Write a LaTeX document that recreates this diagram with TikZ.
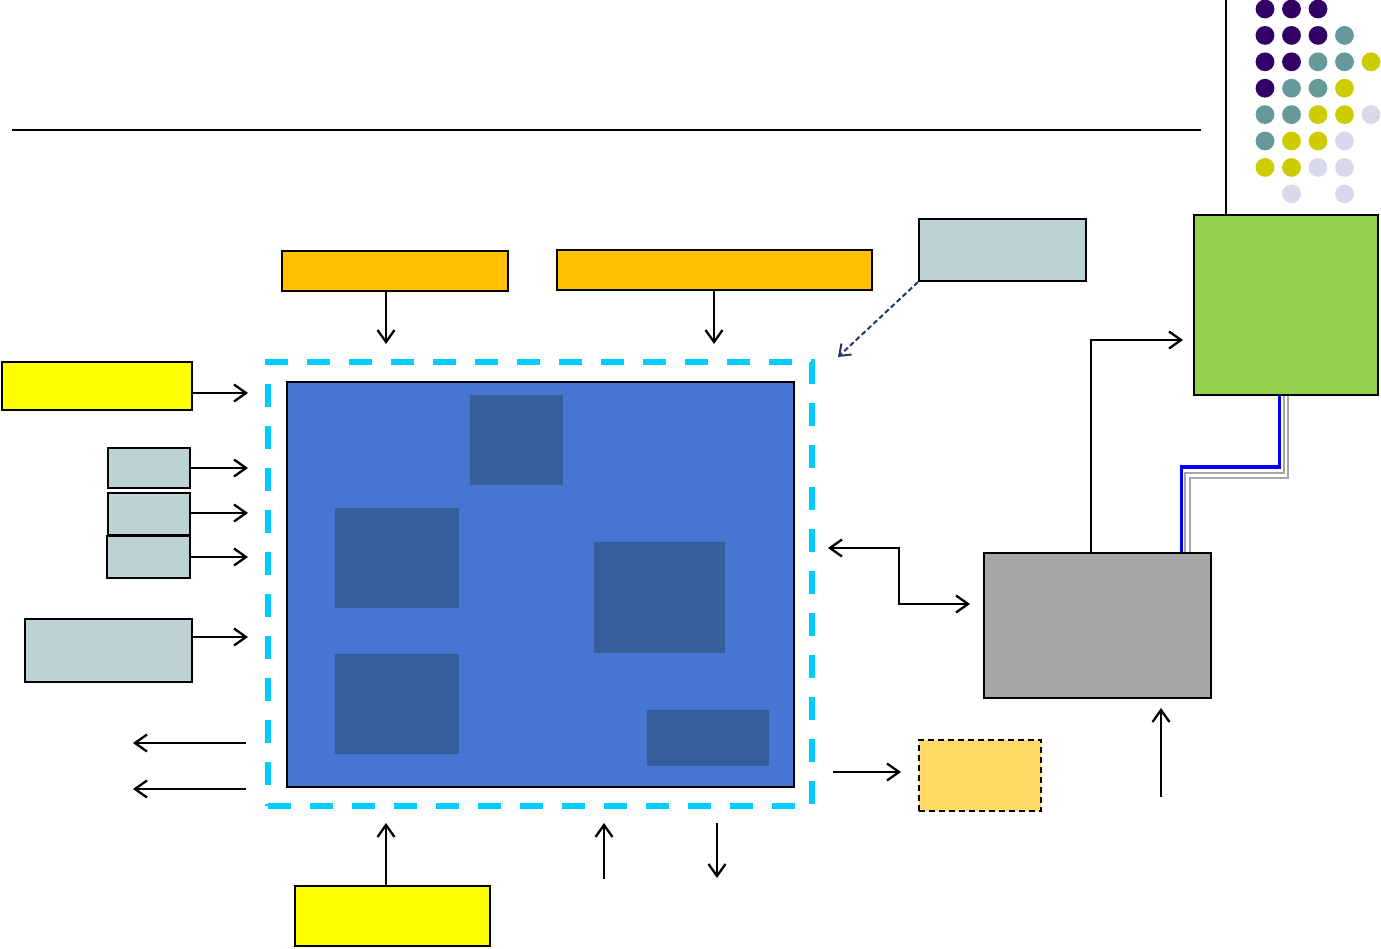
\documentclass[tikz,border=0pt]{standalone}
\usetikzlibrary{arrows.meta,calc}
\definecolor{ordc}{RGB}{255,192,0}
\definecolor{yelc}{RGB}{255,255,0}
\definecolor{pendc}{RGB}{255,217,102}
\definecolor{notec}{RGB}{189,210,212}
\definecolor{corefill}{RGB}{71,118,210}
\definecolor{subc}{RGB}{53,94,155}
\definecolor{framec}{RGB}{0,204,255}
\definecolor{greenc}{RGB}{146,208,80}
\definecolor{grayc}{RGB}{166,166,166}
\definecolor{navyc}{RGB}{31,56,100}
\definecolor{dotp}{RGB}{51,0,102}
\definecolor{dott}{RGB}{102,153,153}
\definecolor{doty}{RGB}{204,204,0}
\definecolor{dotl}{RGB}{217,217,238}
\tikzset{
  blk/.style={rectangle,draw=black,line width=2.2pt,inner sep=0pt},
  sub/.style={rectangle,fill=subc,inner sep=0pt},
  frame/.style={rectangle,draw=framec,line width=5.5pt,dash pattern=on 23pt off 19pt,inner sep=0pt},
  arr/.style={-{Straight Barb[length=12pt,width=17pt]},line width=2.3pt},
  arrb/.style={{Straight Barb[length=12pt,width=17pt]}-{Straight Barb[length=12pt,width=17pt]},line width=2.3pt},
  notearr/.style={-{Straight Barb[length=10pt,width=15pt]},line width=2pt,navyc,dash pattern=on 5pt off 3pt},
  wire/.style={line width=3.5pt,blue},
  dwire/.style={draw=grayc,double=white,line width=2pt,double distance=2.2pt},
}
\begin{document}
\begin{tikzpicture}[x=1pt,y=-1pt]
  \useasboundingbox (0,0) rectangle (1381,948);
  % header rule and top-right corner
  \coordinate (hl) at (12,130); \coordinate (hr) at (1201,130);
  \draw[line width=2.2pt] (hl) -- (hr);
  \foreach \c/\r/\col in {0/0/dotp,1/0/dotp,2/0/dotp,
      0/1/dotp,1/1/dotp,2/1/dotp,3/1/dott,
      0/2/dotp,1/2/dotp,2/2/dott,3/2/dott,4/2/doty,
      0/3/dotp,1/3/dott,2/3/dott,3/3/doty,
      0/4/dott,1/4/dott,2/4/doty,3/4/doty,4/4/dotl,
      0/5/dott,1/5/doty,2/5/doty,3/5/dotl,
      0/6/doty,1/6/doty,2/6/dotl,3/6/dotl,
      1/7/dotl,3/7/dotl}
    \fill[\col] (1265+26.5*\c,9+26.4*\r) circle (9.4);
  % boxes
  \node[blk,fill=ordc,minimum width=226pt,minimum height=40pt] (ord1) at (395,271){};
  \node[blk,fill=ordc,minimum width=315pt,minimum height=40pt] (ord2) at (714.5,270){};
  \node[blk,fill=notec,minimum width=167pt,minimum height=62pt] (note) at (1002.5,250){};
  \node[blk,fill=yelc,minimum width=190pt,minimum height=48pt] (yel1) at (97,386){};
  \node[blk,fill=notec,minimum width=82pt,minimum height=40pt] (s1) at (149,468){};
  \node[blk,fill=notec,minimum width=82pt,minimum height=42pt] (s2) at (149,514){};
  \node[blk,fill=notec,minimum width=83pt,minimum height=42pt] (s3) at (148.5,557){};
  \node[blk,fill=notec,minimum width=167pt,minimum height=63pt] (lg) at (108.5,650.5){};
  \node[frame,minimum width=544pt,minimum height=444pt] (frm) at (540,584){};
  \node[blk,fill=corefill,minimum width=507pt,minimum height=405pt] (core) at (540.5,584.5){};
  \node[sub,minimum width=93pt,minimum height=90pt] (b1) at (516.5,440){};
  \node[sub,minimum width=124pt,minimum height=100pt] (b2) at (397,558){};
  \node[sub,minimum width=131pt,minimum height=111pt] (b3) at (659.5,597.5){};
  \node[sub,minimum width=124pt,minimum height=100pt] (b4) at (397,704){};
  \node[sub,minimum width=122pt,minimum height=56pt] (b5) at (708,738){};
  \node[blk,fill=greenc,minimum width=184pt,minimum height=180pt] (green) at (1286,305){};
  \node[blk,fill=grayc,minimum width=227pt,minimum height=145pt] (gray) at (1097.5,625.5){};
  \node[blk,fill=pendc,dash pattern=on 6pt off 4pt,minimum width=122pt,minimum height=71pt] (pend) at (980,775.5){};
  \node[blk,fill=yelc,minimum width=195pt,minimum height=60pt] (yel2) at (392.5,916){};
  % connectors
  \coordinate (v0) at (1226,0);
  \draw[line width=2.2pt] (v0) -- (green.north -| v0);
  \coordinate (tA) at (386,344); \coordinate (tB) at (714,344); \coordinate (tN) at (838,357);
  \draw[arr] (ord1.south -| tA) -- (tA);
  \draw[arr] (ord2.south -| tB) -- (tB);
  \draw[notearr] (note.south west) -- (tN);
  \coordinate (i1) at (248,393); \coordinate (i2) at (248,468); \coordinate (i3) at (248,513);
  \coordinate (i4) at (248,557); \coordinate (i5) at (248,637);
  \draw[arr] (yel1.east |- i1) -- (i1);
  \draw[arr] (s1.east |- i2) -- (i2);
  \draw[arr] (s2.east |- i3) -- (i3);
  \draw[arr] (s3.east |- i4) -- (i4);
  \draw[arr] (lg.east |- i5) -- (i5);
  \coordinate (o1s) at (246,743); \coordinate (o1t) at (133,743);
  \coordinate (o2s) at (246,789); \coordinate (o2t) at (133,789);
  \draw[arr] (o1s) -- (o1t);
  \draw[arr] (o2s) -- (o2t);
  \coordinate (u1) at (386,823); \coordinate (u2s) at (604,879); \coordinate (u2) at (604,823);
  \coordinate (d1s) at (717,823); \coordinate (d1) at (717,878);
  \draw[arr] (yel2.north -| u1) -- (u1);
  \draw[arr] (u2s) -- (u2);
  \draw[arr] (d1s) -- (d1);
  \coordinate (c1) at (828,548); \coordinate (c2) at (970,604);
  \draw[arrb] (c1) -| ($(c1)!0.5!(c2)$) |- (c2);
  \coordinate (p1) at (833,772); \coordinate (p2) at (901,772);
  \draw[arr] (p1) -- (p2);
  \coordinate (k1) at (1091,340); \coordinate (k2) at (1183,340);
  \draw[arr] (gray.north -| k1) -- (k1) -- (k2);
  \coordinate (g1) at (1161,797); \coordinate (g2) at (1161,708);
  \draw[arr] (g1) -- (g2);
  % links between green and gray
  \coordinate (w1) at (1279.5,467); \coordinate (w2) at (1181.5,467);
  \coordinate (w3) at (1286,475.5); \coordinate (w4) at (1187.5,475.5);
  \draw[dwire] (green.south -| w3) -- (w3) -- (w4) -- (gray.north -| w4);
  \draw[wire] (green.south -| w1) -- (w1) -- (w2) -- (gray.north -| w2);
\end{tikzpicture}
\end{document}
